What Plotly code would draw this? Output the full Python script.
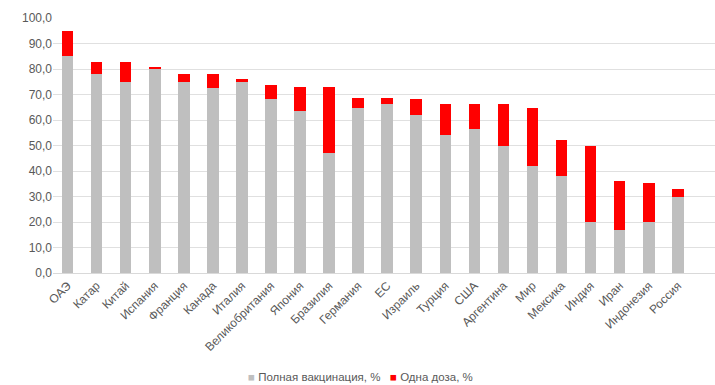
import plotly.graph_objects as go

countries = ["ОАЭ", "Катар", "Китай", "Испания", "Франция", "Канада", "Италия",
             "Великобритания", "Япония", "Бразилия", "Германия", "ЕС", "Израиль",
             "Турция", "США", "Аргентина", "Мир", "Мексика", "Индия", "Иран",
             "Индонезия", "Россия"]
full_vax = [85.0, 78.0, 75.0, 79.9, 75.0, 72.4, 75.0, 68.1, 63.5, 47.1, 64.9,
            66.1, 62.1, 54.1, 56.5, 49.9, 42.0, 37.9, 20.1, 16.9, 20.1, 30.0]
total_any = [94.9, 82.8, 82.8, 80.7, 78.0, 78.0, 76.0, 73.9, 72.8, 72.8, 68.8,
             68.8, 68.1, 66.4, 66.1, 66.1, 64.9, 52.2, 49.9, 36.0, 35.2, 33.1]
one_dose = [round(t - f, 1) for t, f in zip(total_any, full_vax)]

series_names = ["Полная вакцинация, %", "Одна доза, %"]
series_colors = ["#BFBFBF", "#FF0000"]

font_fam = "Liberation Sans, Arial, sans-serif"
grey_txt = "#595959"

fig = go.Figure()
fig.add_trace(go.Bar(x=countries, y=full_vax, name=series_names[0],
                     marker=dict(color=series_colors[0], line=dict(width=0)), width=0.4,
                     showlegend=False))
fig.add_trace(go.Bar(x=countries, y=one_dose, name=series_names[1],
                     marker=dict(color=series_colors[1], line=dict(width=0)), width=0.4,
                     showlegend=False))

# legend drawn as text with coloured squares (Excel-style compact legend)
legend_x = [246, 388]
for name, col, px in zip(series_names, series_colors, legend_x):
    fig.add_annotation(
        x=(px - 53) / 662, xref="paper", xanchor="left",
        y=-(377 - 273) / 255, yref="paper", yanchor="middle",
        text=f"<span style='color:{col}'>■</span> {name}",
        showarrow=False, font=dict(size=11.5, color=grey_txt, family=font_fam),
    )

fig.update_layout(
    barmode="stack",
    width=715, height=385,
    margin=dict(l=53, r=0, t=18, b=112),
    paper_bgcolor="white", plot_bgcolor="white",
    separators=", ",
    font=dict(family=font_fam, color=grey_txt, size=12),
    showlegend=False,
    xaxis=dict(type="category", range=[-0.5, 22.28], tickangle=-45,
               tickfont=dict(size=12, color=grey_txt), showgrid=False,
               showline=True, linecolor="#D9D9D9", linewidth=1, ticks=""),
    yaxis=dict(range=[0, 100], dtick=10, tickformat=".1f",
               tickfont=dict(size=12, color=grey_txt),
               showgrid=True, gridcolor="#E0E0E0", gridwidth=1,
               zeroline=False, showline=False, ticks="", ticklen=0),
)

fig.write_html("out.html")
